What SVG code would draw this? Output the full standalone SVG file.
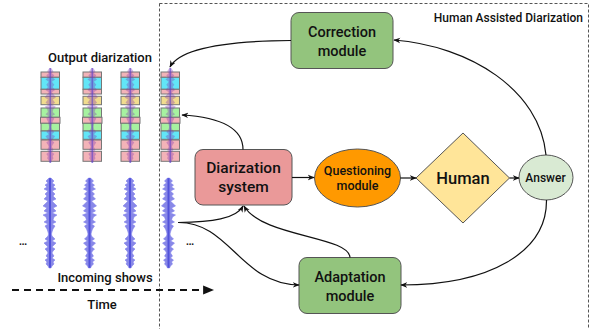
<svg xmlns="http://www.w3.org/2000/svg" xmlns:xlink="http://www.w3.org/1999/xlink" width="593" height="329" viewBox="0 0 593 329">
<style>
text{font-family:Roboto,"Liberation Sans",sans-serif;fill:#111;font-weight:500}
.lbl{font-size:13px}
.box{stroke:#555;stroke-width:1}
.edge{fill:none;stroke:#111;stroke-width:1.2}
.seg{stroke:#777;stroke-width:1}
.pk{fill:#f3b3b8}
.cy{fill:#62e6f7}
.ye{fill:#f1dc8e}
.gr{fill:#a6f2a0}
</style>
<defs>
<marker id="ah" viewBox="0 0 10 10" refX="9" refY="5" markerWidth="7" markerHeight="7" orient="auto" markerUnits="userSpaceOnUse">
<path d="M0,1 L10,5 L0,9 L3,5 Z" fill="#111"/>
</marker>
<marker id="big" viewBox="0 0 10 10" refX="9" refY="5" markerWidth="11" markerHeight="11" orient="auto" markerUnits="userSpaceOnUse">
<path d="M0,1 L10,5 L0,9 Z" fill="#111"/>
</marker>
<path id="wp" d="M0,0 L1,0 L4,3 L2,5 L5,7 L3,9 L6,11 L2,13 L5,16 L3,18 L6,21 L2,23 L5,26 L7,28 L3,30 L6,33 L2,35 L7,37 L4,39 L3,42 L6,44 L2,46 L5,48 L3,51 L2,54 L1.5,56 L2,58 L5,61 L2,63 L6,65 L4,67 L2,69 L5,71 L3,73 L2,75 L4,78 L2,80 L5,82 L3,84 L4,86 L2,88 L1,90 L-1,90 L-2,88 L-4,86 L-3,84 L-5,82 L-2,80 L-4,78 L-2,75 L-3,73 L-5,71 L-2,69 L-4,67 L-6,65 L-2,63 L-5,61 L-2,58 L-1.5,56 L-2,54 L-3,51 L-5,48 L-2,46 L-6,44 L-3,42 L-4,39 L-7,37 L-2,35 L-6,33 L-3,30 L-7,28 L-5,26 L-2,23 L-6,21 L-3,18 L-5,16 L-2,13 L-6,11 L-3,9 L-5,7 L-2,5 L-4,3 L-1,0 Z"/>
<g id="wave">
<line x1="0" y1="0" x2="0" y2="90" stroke="#4a4ad8" stroke-width="2"/>
<use xlink:href="#wp" fill="#5555dd" fill-opacity="0.7" stroke="#7777ee" stroke-opacity="0.5" stroke-width="1"/>
</g>
<g id="outcol">
<rect class="seg pk" x="0" y="72" width="18.5" height="5.3"/>
<rect class="seg cy" x="0" y="77.3" width="18.5" height="12"/>
<rect class="seg pk" x="0" y="89.3" width="18.5" height="4.7"/>
<rect class="seg ye" x="0" y="96.3" width="18.5" height="8.4"/>
<rect class="seg gr" x="0" y="108" width="18.5" height="9.3"/>
<rect class="seg pk" x="-0.5" y="117.3" width="19.5" height="6"/>
<rect class="seg gr" x="0" y="123.3" width="18.5" height="7.7"/>
<rect class="seg cy" x="0" y="131" width="18.5" height="8.3"/>
<rect class="seg pk" x="0" y="140" width="18.5" height="9.3"/>
<rect class="seg pk" x="0" y="151.3" width="18.5" height="10"/>
<line x1="9.3" y1="68" x2="9.3" y2="163" stroke="#4a4ad8" stroke-width="1.6" stroke-opacity="0.6"/>
<use xlink:href="#wp" transform="translate(9.3,68) scale(0.8,1.05)" fill="#8033b0" fill-opacity="0.35"/>
</g>
</defs>

<rect x="159.5" y="3.5" width="429" height="330" fill="none" stroke="#555" stroke-width="1" stroke-dasharray="3,2"/>
<text x="583" y="22" font-size="12" text-anchor="end">Human Assisted Diarization</text>

<g id="output-diarization">
<text class="lbl" x="100" y="62" text-anchor="middle">Output diarization</text>
<use xlink:href="#outcol" transform="translate(41,0)"/>
<use xlink:href="#outcol" transform="translate(83,0)"/>
<use xlink:href="#outcol" transform="translate(121,0)"/>
<use xlink:href="#outcol" transform="translate(161,0)"/>
</g>

<g id="incoming-shows">
<use xlink:href="#wave" transform="translate(50,178)"/>
<use xlink:href="#wave" transform="translate(89.5,178)"/>
<use xlink:href="#wave" transform="translate(130,178)"/>
<use xlink:href="#wave" transform="translate(168.5,178)"/>
<text x="23" y="245" font-size="12" font-weight="400" text-anchor="middle">…</text>
<text x="190" y="245" font-size="12" font-weight="400" text-anchor="middle">…</text>
<text class="lbl" x="105" y="282" text-anchor="middle">Incoming shows</text>
<line x1="12" y1="290" x2="213" y2="290" stroke="#111" stroke-width="1.8" stroke-dasharray="7,5" marker-end="url(#big)"/>
<text class="lbl" x="102" y="309" text-anchor="middle">Time</text>
</g>

<g id="correction-module">
<rect class="box" x="291" y="12.5" width="102" height="56" rx="8" fill="#93c47d"/>
<text x="342" y="37" font-size="14.5" text-anchor="middle">Correction</text>
<text x="342" y="56" font-size="14.5" text-anchor="middle">module</text>
</g>

<g id="diarization-system">
<rect class="box" x="195" y="149.5" width="97" height="55.5" rx="8" fill="#ea9999"/>
<text x="243.5" y="173" font-size="15.5" text-anchor="middle">Diarization</text>
<text x="243.5" y="192" font-size="15.5" text-anchor="middle">system</text>
</g>

<g id="questioning-module">
<ellipse class="box" cx="357.5" cy="178" rx="43" ry="29" fill="#ff9900"/>
<text x="357.5" y="175" font-size="12.5" text-anchor="middle">Questioning</text>
<text x="357.5" y="190" font-size="12.5" text-anchor="middle">module</text>
</g>

<g id="human">
<polygon class="box" points="463,133 509.5,178 463,223 416,178" fill="#ffe599"/>
<text x="463" y="184" font-size="16.5" text-anchor="middle">Human</text>
</g>

<g id="answer">
<ellipse class="box" cx="546" cy="177.5" rx="27" ry="22.5" fill="#d9ead3"/>
<text x="545.5" y="182" font-size="12" text-anchor="middle">Answer</text>
</g>

<g id="adaptation-module">
<rect class="box" x="299" y="257.5" width="102" height="56" rx="8" fill="#93c47d"/>
<text x="350" y="282" font-size="14.5" text-anchor="middle">Adaptation</text>
<text x="350" y="301" font-size="14.5" text-anchor="middle">module</text>
</g>

<g id="connectors">
<path class="edge" d="M292,177.5 L314,177.5" marker-end="url(#ah)"/>
<path class="edge" d="M400.5,178 L416,178" marker-end="url(#ah)"/>
<path class="edge" d="M509.5,178 L519,178" marker-end="url(#ah)"/>
<path class="edge" d="M546,155 C540,90 470,46 394,40" marker-end="url(#ah)"/>
<path class="edge" d="M291,40.5 C225,41 180,48 170,67" marker-end="url(#ah)"/>
<path class="edge" d="M243,149.5 C243,125 215,117 182,115" marker-end="url(#ah)"/>
<path class="edge" d="M178,222.5 C212,222 236,219 243,206" marker-end="url(#ah)"/>
<path class="edge" d="M178,222.5 C230,222 240,284 299,285" marker-end="url(#ah)"/>
<path class="edge" d="M350,257.5 C349,236 262,237 244,206" marker-end="url(#ah)"/>
<path class="edge" d="M546.5,200 C547,252 490,285 401,285" marker-end="url(#ah)"/>
</g>
</svg>
